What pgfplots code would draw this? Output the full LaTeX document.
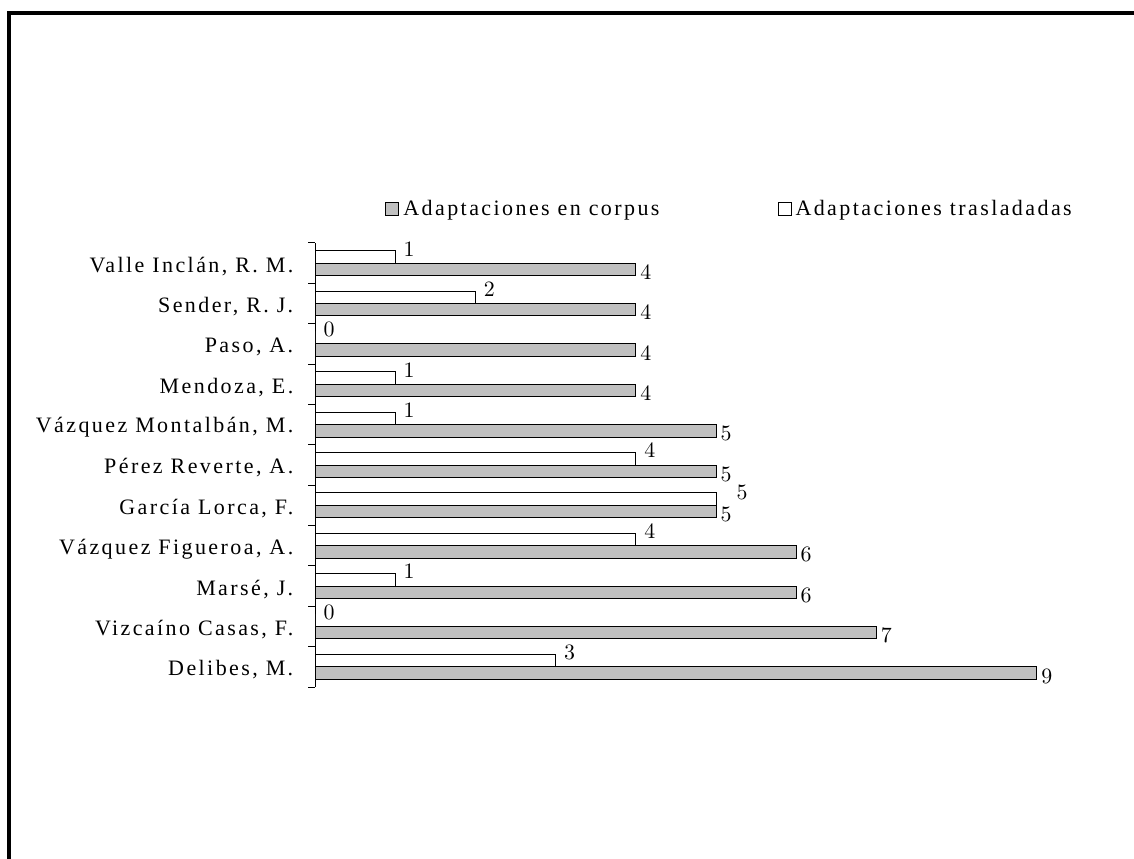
\documentclass[border=0pt]{standalone}
\usepackage{fontspec}
\setmainfont{Liberation Serif}[LetterSpace=11]
\usepackage{pgfplots}
\pgfplotsset{compat=1.18}
\definecolor{barsilver}{HTML}{C0C0C0}
\begin{document}
\fontsize{11}{13}\selectfont
\begin{tikzpicture}[x=1pt,y=1pt]
\useasboundingbox (0,0) rectangle (567,429);
% page frame (only the top and left edges fall inside the page)
\draw[line width=2pt] (4.5,-2) -- (4.5,422.5) -- (570,422.5);
\begin{axis}[
  at={(157.5pt,85.5pt)}, anchor=south west,
  scale only axis, width=401pt, height=222pt,
  xmin=0, xmax=10, ymin=-0.5, ymax=10.5,
  xbar, bar width=6.2pt,
  axis x line=none, axis y line*=left,
  axis line style={line width=0.5pt},
  ytick={0,...,10},
  yticklabels={{Delibes, M.},{Vizcaíno Casas, F.},{Marsé, J.},{Vázquez Figueroa, A.},{García Lorca, F.},{Pérez Reverte, A.},{Vázquez Montalbán, M.},{Mendoza, E.},{Paso, A.},{Sender, R. J.},{Valle Inclán, R. M.}},
  yticklabel style={font=\fontsize{11}{13}\selectfont, xshift=-7pt, yshift=-1.5pt},
  major tick length=0pt,
  minor ytick={-0.5,0.5,...,10.5},
  minor tick length=3.5pt,
  tick align=outside,
  tick style={line width=0.5pt, black},
  nodes near coords,
  nodes near coords style={font=\fontsize{11}{13}\selectfont, anchor=west, inner sep=2pt},
  legend columns=2,
  legend style={at={(0.0873,1.0755)}, anchor=west, draw=none, fill=none,
    inner sep=0pt, font=\fontsize{11}{13}\selectfont,
    nodes={inner sep=2pt, anchor=west},
    /tikz/every even column/.append style={column sep=57pt}},
  legend image code/.code={\draw[#1, line width=0.5pt] (0pt,-3.25pt) rectangle (6.5pt,3.25pt);},
]
% Adaptaciones en corpus
\addplot[draw=black, fill=barsilver, line width=0.5pt, bar shift=-3.1pt,
  every node near coord/.append style={yshift=-1.5pt}]
  coordinates {(9,0) (7,1) (6,2) (6,3) (5,4) (5,5) (5,6) (4,7) (4,8) (4,9) (4,10)};
\addlegendentry{Adaptaciones en corpus}
% Adaptaciones trasladadas (a label that meets the gray one beside it moves right)
\addplot[draw=black, fill=white, line width=0.5pt, bar shift=3.1pt,
  visualization depends on={x \as \rawx},
  visualization depends on={y \as \rawy},
  every node near coord/.append style={
    xshift={ifthenelse(\rawy==4,8,2)*1pt},
    yshift={ifthenelse(\rawy==4,3.5,4)*1pt}}]
  coordinates {(3,0) (0,1) (1,2) (4,3) (5,4) (4,5) (1,6) (1,7) (0,8) (2,9) (1,10)};
\addlegendentry{Adaptaciones trasladadas}
\end{axis}
\end{tikzpicture}
\end{document}
